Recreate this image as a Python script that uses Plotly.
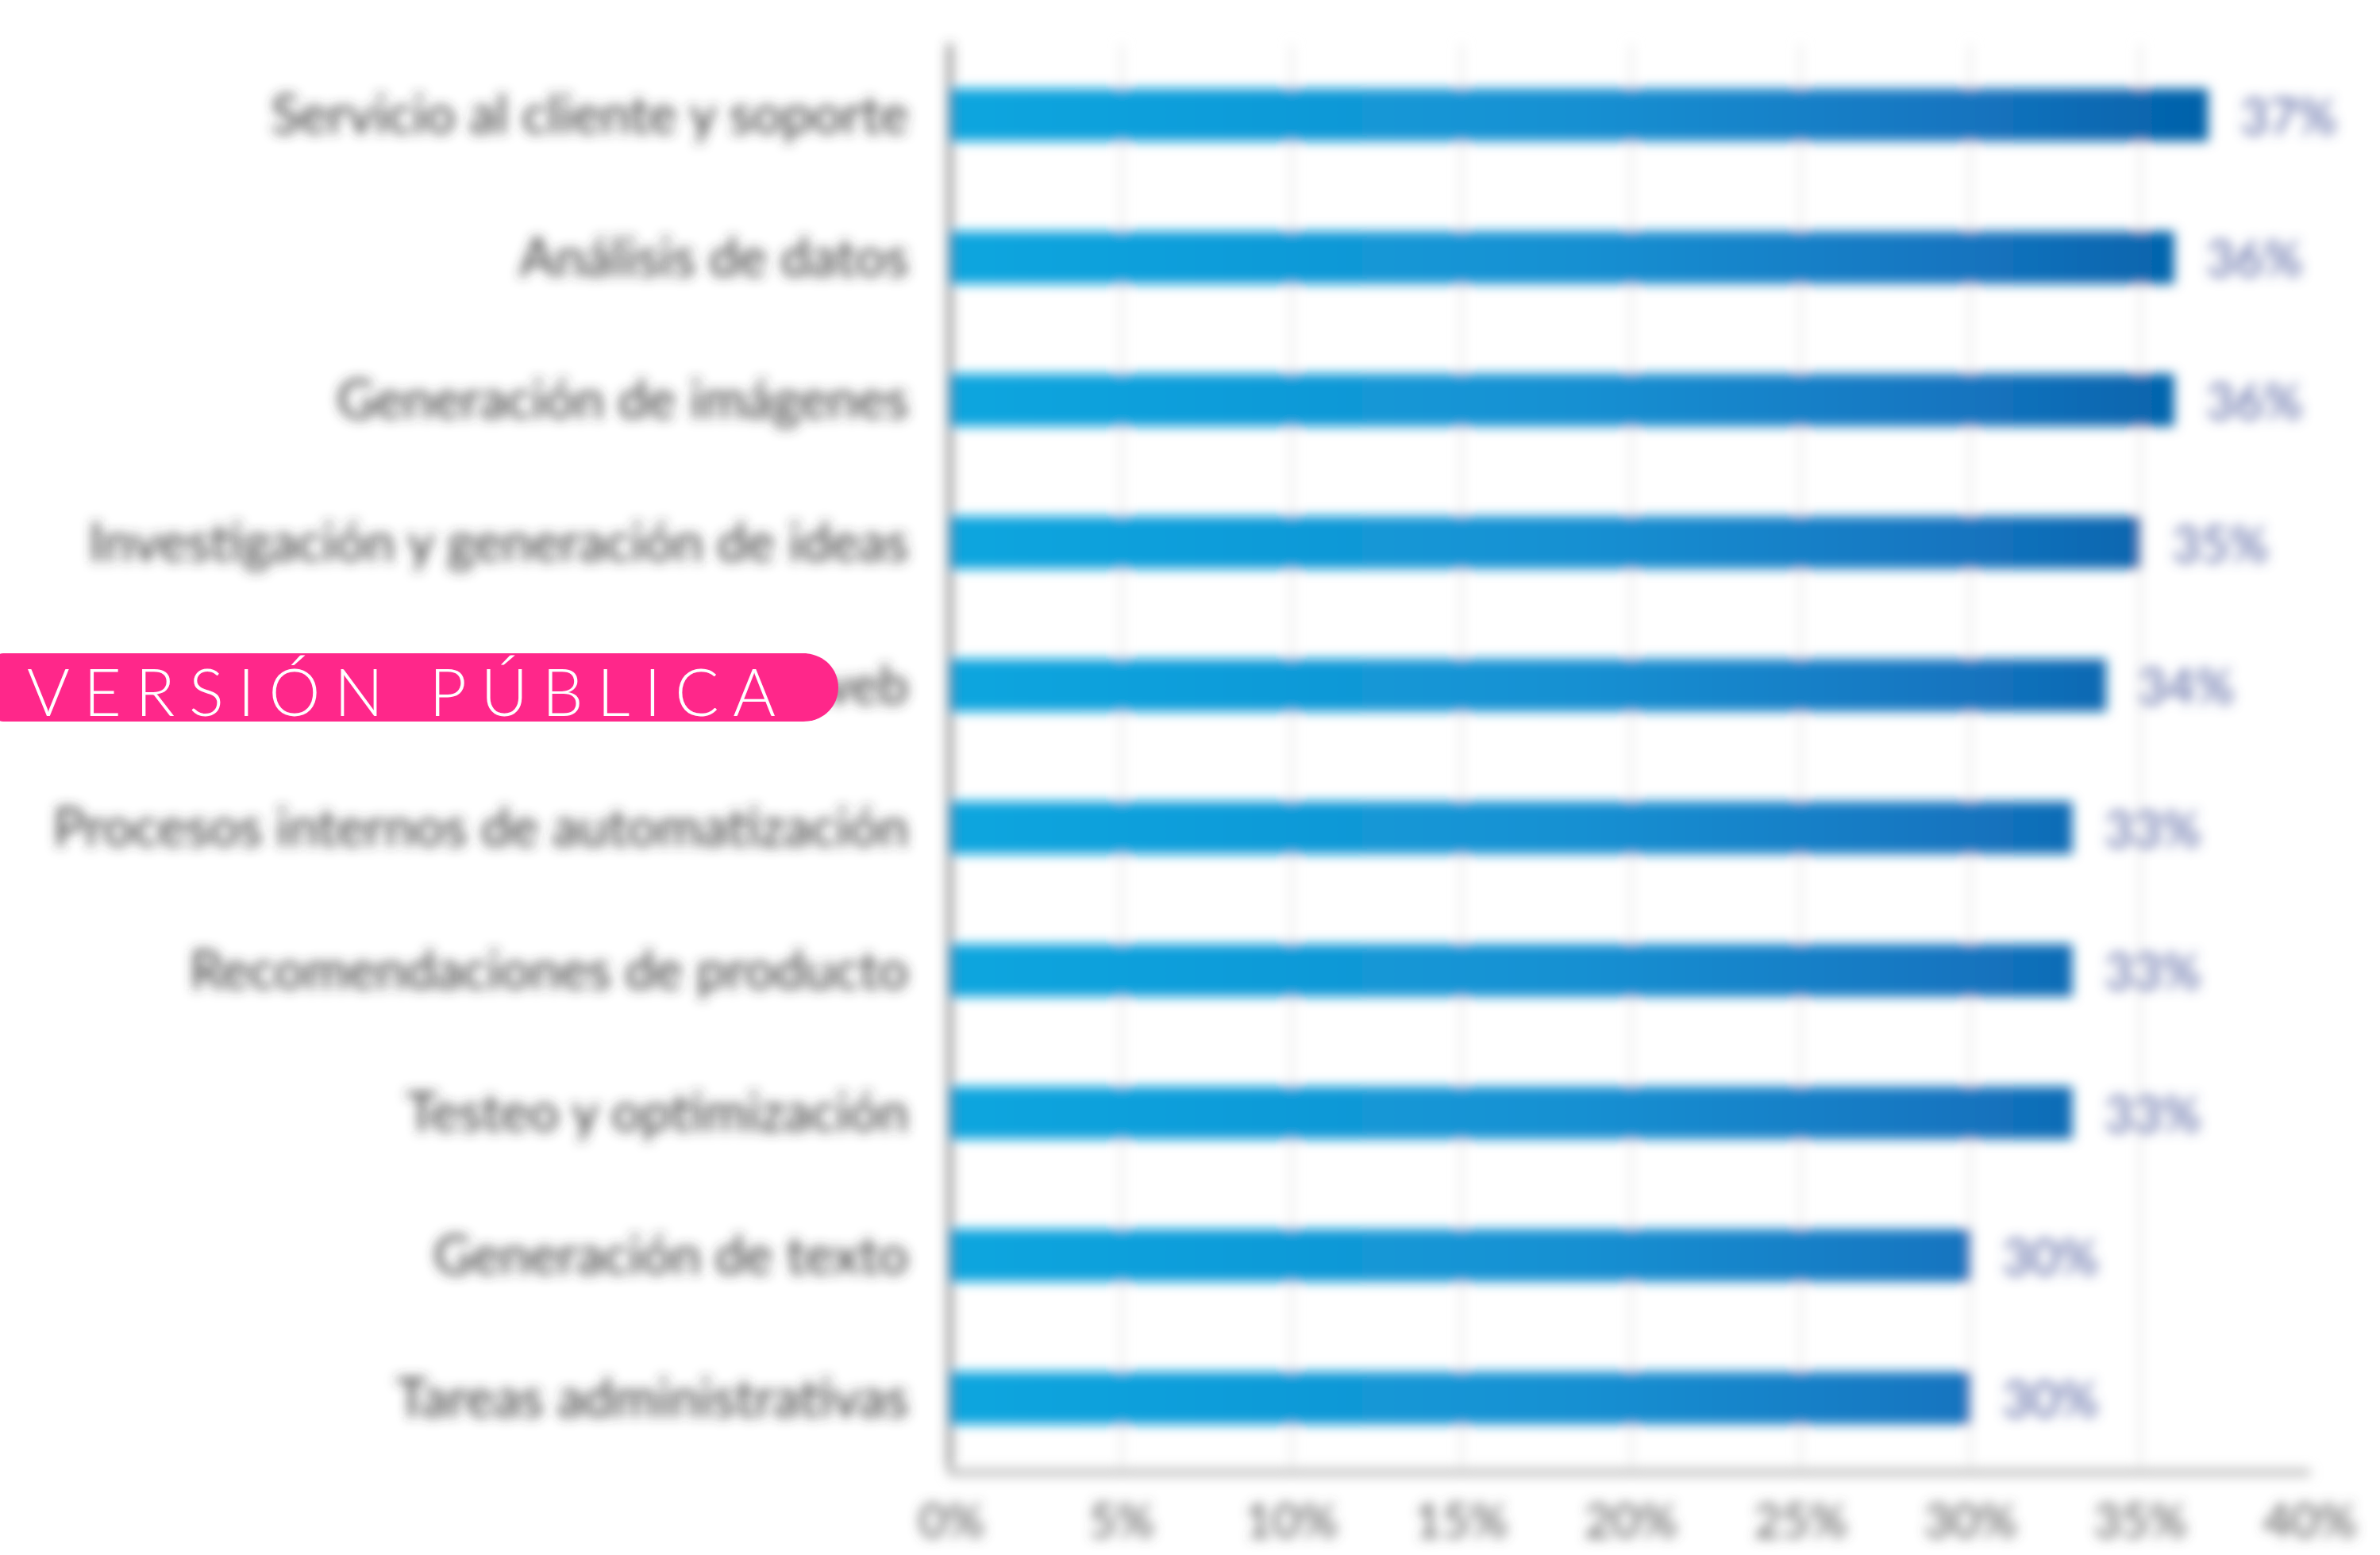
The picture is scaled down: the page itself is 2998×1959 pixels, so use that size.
import plotly.graph_objects as go

# Survey results: share of respondents using AI for each task
categories = [
    "Servicio al cliente y soporte",
    "Análisis de datos",
    "Generación de imágenes",
    "Investigación y generación de ideas",
    "Personalización de sitios web",
    "Procesos internos de automatización",
    "Recomendaciones de producto",
    "Testeo y optimización",
    "Generación de texto",
    "Tareas administrativas",
]
values = [37, 36, 36, 35, 34, 33, 33, 33, 30, 30]
x_ticks = [0, 5, 10, 15, 20, 25, 30, 35, 40]
x_tick_labels = [f"{v}%" for v in x_ticks]
badge_text = "VERSIÓN PÚBLICA"

W, H = 2998, 1959
PL, PR, PT, PB = 1199, 2910, 55, 1851
FONT = "Lato"


def px_x(px):
    return (px - PL) / (PR - PL)


def px_y(py):
    return (PB - py) / (PB - PT)


fig = go.Figure()
fig.add_trace(go.Bar(
    x=values,
    y=categories,
    orientation="h",
    width=0.37,
    marker=dict(color="#1289cf", line=dict(width=0)),
    hoverinfo="skip",
))

annotations = []
for cat, v in zip(categories, values):
    annotations.append(dict(
        x=v, y=cat, xref="x", yref="y",
        text=f"{v}%", showarrow=False,
        xanchor="left", yanchor="middle", xshift=38,
        font=dict(family=FONT, size=62, color="#4d5b9c"),
    ))

# pink "public version" badge
bx0, bx1, by0, by1 = -4, 1056, 823, 909
r_small = 8
ry = (by1 - by0) / 2
pts = [
    ("M", [(bx0 + r_small, by0)]),
    ("L", [(bx1 - 44, by0)]),
    ("C", [(bx1 - 20, by0), (bx1, by0 + 18), (bx1, by0 + ry)]),
    ("C", [(bx1, by1 - 18), (bx1 - 20, by1), (bx1 - 44, by1)]),
    ("L", [(bx0 + r_small, by1)]),
    ("Q", [(bx0, by1), (bx0, by1 - r_small)]),
    ("L", [(bx0, by0 + r_small)]),
    ("Q", [(bx0, by0), (bx0 + r_small, by0)]),
]
path = ""
for cmd, plist in pts:
    path += cmd + " " + " ".join(f"{px_x(a):.5f},{px_y(b):.5f}" for a, b in plist) + " "
path += "Z"

shapes = [dict(
    type="path", path=path, xref="paper", yref="paper",
    fillcolor="#ff278a", line=dict(width=0), layer="above",
)]

annotations.append(dict(
    x=px_x(513), y=px_y(870), xref="paper", yref="paper",
    text=badge_text, showarrow=False, xanchor="center", yanchor="middle",
    font=dict(family=FONT, size=82, color="#ffffff", weight=300),
))

fig.update_layout(
    template="none",
    width=W, height=H,
    margin=dict(l=PL, r=W - PR, t=PT, b=H - PB, pad=0, autoexpand=False),
    paper_bgcolor="#ffffff", plot_bgcolor="#ffffff",
    showlegend=False,
    shapes=shapes,
    annotations=annotations,
    font=dict(family=FONT),
    xaxis=dict(
        range=[0, 40], tickmode="array", tickvals=x_ticks, ticktext=x_tick_labels,
        showgrid=True, gridcolor="#e4e4e4", gridwidth=4,
        zeroline=False, showline=True, linecolor="#b3b3b3", linewidth=8,
        ticks="", ticklabelstandoff=6, automargin=False,
        tickfont=dict(family=FONT, size=60, color="#555555"),
        fixedrange=True,
    ),
    yaxis=dict(
        categoryorder="array", categoryarray=categories, autorange="reversed",
        showgrid=False, zeroline=False,
        showline=True, linecolor="#4a4a4a", linewidth=5,
        ticks="", ticklabelstandoff=36, automargin=False,
        tickfont=dict(family=FONT, size=67, color="#383838"),
        fixedrange=True,
    ),
)

post_script = """
var gd = document.getElementById('{plot_id}');
var ns = 'http://www.w3.org/2000/svg';
var svgs = gd.querySelectorAll('svg.main-svg');
var paper = svgs[0];
var defs = paper.querySelector('defs');

var flt = document.createElementNS(ns, 'filter');
flt.setAttribute('id', 'softblur');
flt.setAttribute('filterUnits', 'userSpaceOnUse');
flt.setAttribute('x', '-1000'); flt.setAttribute('y', '-1000');
flt.setAttribute('width', '6000'); flt.setAttribute('height', '5000');
var gb = document.createElementNS(ns, 'feGaussianBlur');
gb.setAttribute('stdDeviation', '7.5');
flt.appendChild(gb);
defs.appendChild(flt);

// horizontal gradient along the value axis
var bars = gd.querySelectorAll('.barlayer .point path');
var maxR = 0;
bars.forEach(function(p){ var b = p.getBBox(); maxR = Math.max(maxR, b.x + b.width); });
var lg = document.createElementNS(ns, 'linearGradient');
lg.setAttribute('id', 'bargrad');
lg.setAttribute('gradientUnits', 'userSpaceOnUse');
lg.setAttribute('x1', '0'); lg.setAttribute('x2', String(maxR));
lg.setAttribute('y1', '0'); lg.setAttribute('y2', '0');
[['0', '#0ba6df'], ['0.5', '#1590d2'], ['0.8', '#1675c0'], ['1', '#0261a9']].forEach(function(s){
  var st = document.createElementNS(ns, 'stop');
  st.setAttribute('offset', s[0]); st.setAttribute('stop-color', s[1]);
  lg.appendChild(st);
});
defs.appendChild(lg);
bars.forEach(function(p){ p.style.fill = 'url(#bargrad)'; });

gd.querySelectorAll('.cartesianlayer').forEach(function(g){ g.setAttribute('filter', 'url(#softblur)'); });
var anns = gd.querySelectorAll('g.annotation');
var lastIdx = anns.length - 1;
anns.forEach(function(g, i){
  if (i < lastIdx) { g.setAttribute('filter', 'url(#softblur)'); }
});

// spread the badge lettering across the badge
var badge = anns[lastIdx];
var t = badge.querySelector('text');
if (t) {
  var len = t.getComputedTextLength();
  var n = t.textContent.length;
  var target = 943;
  var ls = (target - len) / (n - 1);
  t.style.letterSpacing = ls + 'px';
  var rect = t.getBoundingClientRect();
  var dx = 42 - rect.left;
  var x0 = parseFloat(t.getAttribute('x') || '0');
  t.setAttribute('x', String(x0 + dx));
}
"""

fig.write_html("out.html", config={"displayModeBar": False}, post_script=post_script)
